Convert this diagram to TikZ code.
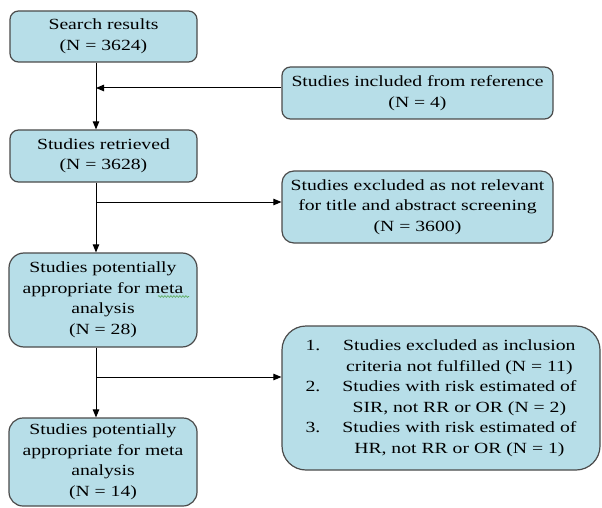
\documentclass[tikz,border=0pt]{standalone}
\usepackage{fontspec}
\setmainfont{Liberation Serif}[FakeStretch=1.27]
\usetikzlibrary{arrows.meta,decorations.pathmorphing}
\definecolor{boxfill}{RGB}{183,222,232}
\definecolor{boxline}{RGB}{75,75,75}
\definecolor{spellgreen}{RGB}{90,170,90}
\begin{document}
\begin{tikzpicture}[x=1pt,y=-1pt,
  box/.style={draw=boxline, fill=boxfill, line width=1.2pt, align=center,
    inner sep=0pt, font=\fontsize{15.5}{20.5}\selectfont},
  arr/.style={line width=1pt, -{Triangle[length=8pt,width=6.5pt]}},
  squiggle/.style={spellgreen, line width=0.6pt, decorate,
    decoration={snake, amplitude=0.9pt, segment length=3pt}}]
\useasboundingbox[fill=white] (0,0) rectangle (602,508);
% left column
\node[box, rounded corners=8.5pt, minimum width=187pt, minimum height=51pt] (b1) at (103.5,36.5)
  {Search results\\(N = 3624)};
\node[box, rounded corners=8.5pt, minimum width=187pt, minimum height=52pt] (b2) at (103.5,156)
  {Studies retrieved\\(N = 3628)};
\node[box, rounded corners=15pt, minimum width=188pt, minimum height=94pt] (b3) at (103,300)
  {Studies potentially\\appropriate for meta\\analysis\\(N = 28)};
\node[box, rounded corners=14pt, minimum width=188pt, minimum height=88pt] (b4) at (103,462)
  {Studies potentially\\appropriate for meta\\analysis\\(N = 14)};
% right column
\node[box, rounded corners=8.5pt, minimum width=271pt, minimum height=52pt] (r1) at (417.5,93)
  {Studies included from reference\\(N = 4)};
\node[box, rounded corners=12pt, minimum width=271pt, minimum height=72pt] (r2) at (417.5,207)
  {Studies excluded as not relevant\\for title and abstract screening\\(N = 3600)};
\node[box, rounded corners=24pt, minimum width=318pt, minimum height=144pt] (r3) at (441,398)
  {\begin{tabular}{@{}l@{\hspace{22pt}}c@{}}
   1. & Studies excluded as inclusion\\
      & criteria not fulfilled (N = 11)\\
   2. & Studies with risk estimated of\\
      & SIR, not RR or OR (N = 2)\\
   3. & Studies with risk estimated of\\
      & HR, not RR or OR (N = 1)
   \end{tabular}};
% spell-check underline under "meta" in the third box
\coordinate (sq1) at (158,296.5);
\coordinate (sq2) at (189,296.5);
\draw[squiggle] (sq1) -- (sq2);
% junctions on the trunk
\coordinate (j1) at (96,88);
\coordinate (j2) at (96,202);
\coordinate (j3) at (96,377);
% connectors
\draw[arr] (b1.south -| j1) -- (b2.north -| j1);
\draw[arr] (r1.west |- j1) -- (j1);
\draw[arr] (b2.south -| j1) -- (b3.north -| j1);
\draw[arr] (j2) -- (r2.west |- j2);
\draw[arr] (b3.south -| j1) -- (b4.north -| j1);
\draw[arr] (j3) -- (r3.west |- j3);
\end{tikzpicture}
\end{document}
